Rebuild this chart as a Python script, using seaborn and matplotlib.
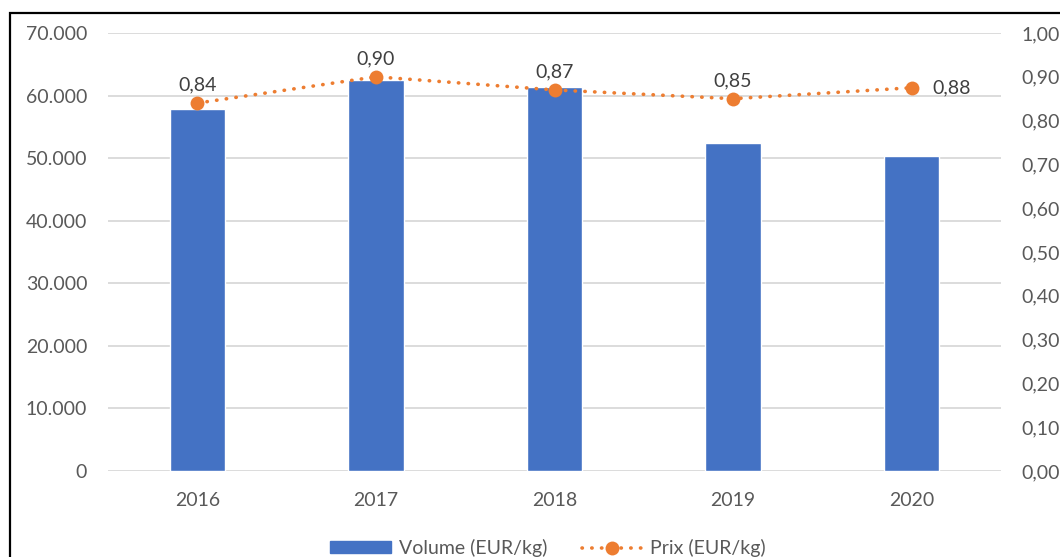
import numpy as np
import pandas as pd
import seaborn as sns
import matplotlib.pyplot as plt
from matplotlib.patches import Rectangle
from matplotlib.ticker import FuncFormatter

years = ["2016", "2017", "2018", "2019", "2020"]
volume = [57800, 62500, 61400, 52500, 50300]
prix = [0.84, 0.90, 0.87, 0.85, 0.875]
prix_labels = ["0,84", "0,90", "0,87", "0,85", "0,88"]

BLUE = "#4472C4"
ORANGE = "#ED7D31"
TXT = "#595959"
GRID = "#D9D9D9"

sns.set_style("white")
plt.rcParams["font.family"] = ["Lato", "DejaVu Sans"]

fig = plt.figure(figsize=(10.6, 5.57), dpi=100)
ax = fig.add_axes([108 / 1060, 1 - 471 / 557, 893 / 1060, 438 / 557])

df = pd.DataFrame({"year": years, "volume": volume})
sns.barplot(data=df, x="year", y="volume", color=BLUE, saturation=1,
            width=0.31, ax=ax, zorder=3)
ax.set_xlim(-0.5, 4.5)
ax.set_ylim(0, 70000)
ax.set_yticks(np.arange(0, 70001, 10000))
ax.yaxis.set_major_formatter(FuncFormatter(lambda v, p: f"{int(v):,}".replace(",", ".")))
ax.grid(axis="y", color=GRID, lw=1.3, zorder=0)
ax.set_axisbelow(True)
ax.set_xlabel("")
ax.set_ylabel("")
for s in ax.spines.values():
    s.set_visible(False)
ax.tick_params(axis="y", length=0, pad=15, labelsize=14, labelcolor=TXT)
ax.tick_params(axis="x", length=0, pad=15, labelsize=14, labelcolor=TXT)

ax2 = ax.twinx()
sns.lineplot(x=np.arange(len(years)), y=prix, ax=ax2, color=ORANGE, lw=2.6,
             linestyle=(0, (0.1, 2.6)), dash_capstyle="round",
             marker="o", markersize=10, markeredgewidth=0, zorder=4)
ax2.set_ylim(0, 1)
ax2.set_yticks(np.arange(0, 1.01, 0.1))
ax2.yaxis.set_major_formatter(FuncFormatter(lambda v, p: f"{v:.2f}".replace(".", ",")))
ax2.tick_params(axis="y", length=0, pad=15, labelsize=14, labelcolor=TXT)
for s in ax2.spines.values():
    s.set_visible(False)
ax2.set_xlim(-0.5, 4.5)

for i, (p, lab) in enumerate(zip(prix, prix_labels)):
    if i == len(prix) - 1:
        ax2.annotate(lab, (i, p), xytext=(15, 0), textcoords="offset points",
                     ha="left", va="center", fontsize=14, color="#404040")
    else:
        ax2.annotate(lab, (i, p), xytext=(0, 13), textcoords="offset points",
                     ha="center", va="center", fontsize=14, color="#404040")

h1 = Rectangle((0, 0), 1, 1, color=BLUE)
h2 = plt.Line2D([], [], color=ORANGE, lw=2.6, linestyle=(0, (0.1, 2.6)),
                dash_capstyle="round", marker="o", markersize=10, markeredgewidth=0)
leg = fig.legend([h1, h2], ["Volume (EUR/kg)", "Prix (EUR/kg)"], loc="center",
                 bbox_to_anchor=(0.517, 1 - 548 / 557), ncol=2, frameon=False,
                 fontsize=14, labelcolor=TXT, handlelength=3.1, handleheight=0.6,
                 handletextpad=0.4, columnspacing=1.8)

fig.patches.append(Rectangle((10 / 1060, -0.1), 1.2, 1.1 - 13 / 557, fill=False,
                             edgecolor="black", lw=1.6, transform=fig.transFigure))

fig.savefig("out.png", dpi=100)
